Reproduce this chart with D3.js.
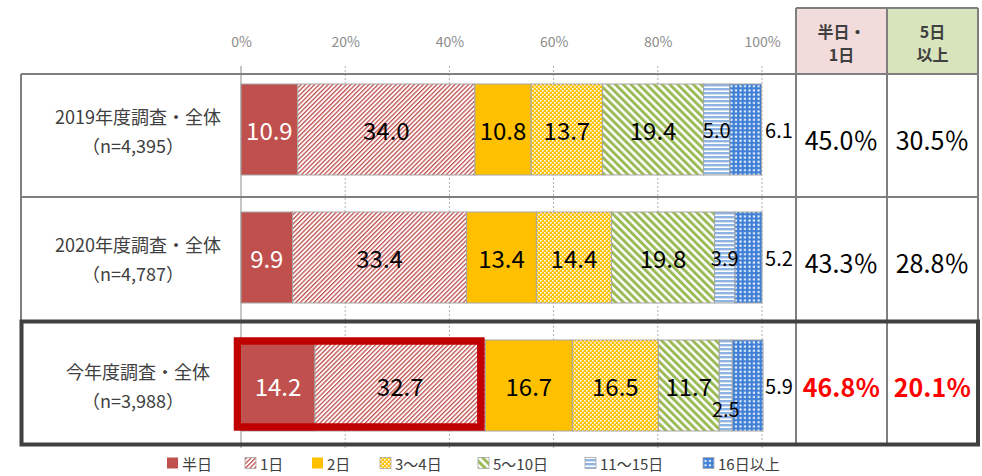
<!DOCTYPE html>
<html>
<head>
<meta charset="utf-8">
<script src="https://cdn.jsdelivr.net/npm/d3@7"></script>
<style>
  body { margin: 0; background: #fff; }
  svg text { font-family: "Noto Sans CJK JP", "Noto Sans", sans-serif; }
</style>
</head>
<body>
<svg id="chart" width="982" height="476"></svg>
<script>
// data
const rowNames = ["2019年度調査・全体", "2020年度調査・全体", "今年度調査・全体"];
const rowN = ["（n=4,395）", "（n=4,787）", "（n=3,988）"];
const categories = ["半日", "1日", "2日", "3～4日", "5～10日", "11～15日", "16日以上"];
const values2019 = [10.9, 34.0, 10.8, 13.7, 19.4, 5.0, 6.1];
const values2020 = [9.9, 33.4, 13.4, 14.4, 19.8, 3.9, 5.2];
const valuesNow = [14.2, 32.7, 16.7, 16.5, 11.7, 2.5, 5.9];
const tickValues = [0, 20, 40, 60, 80, 100];
const sumHeaders = [["半日・", "1日"], ["5日", "以上"]];
const sumHalfOne = ["45.0％", "43.3％", "46.8％"];
const sumFivePlus = ["30.5％", "28.8％", "20.1％"];

const allValues = [values2019, values2020, valuesNow];

const svg = d3.select("svg#chart");

// layout
const tableLeft = 21, tableTop = 74, tableRight = 978, headTop = 8;
const rowLines = [74, 197, 320, 446];
const colA = 796, colB = 887;

const x = d3.scaleLinear().domain([0, 100]).range([241, 762]);
const y = d3.scaleBand().domain(rowNames).range([84, 431]).paddingInner(0.289).paddingOuter(0);

// patterns
const defs = svg.append("defs");
const red = "#c0504d", yellow = "#ffc000", green = "#9bbb59", lblue = "#8db4e2", blue = "#3f7fd6";

let p = defs.append("pattern").attr("id", "pat1").attr("patternUnits", "userSpaceOnUse")
  .attr("width", 3.2).attr("height", 3.2).attr("patternTransform", "rotate(45)");
p.append("rect").attr("width", 3.2).attr("height", 3.2).attr("fill", "#fff");
p.append("rect").attr("width", 1.3).attr("height", 3.2).attr("fill", red);

p = defs.append("pattern").attr("id", "pat34").attr("patternUnits", "userSpaceOnUse")
  .attr("width", 4).attr("height", 4);
p.append("rect").attr("width", 4).attr("height", 4).attr("fill", yellow);
p.append("rect").attr("width", 1.6).attr("height", 1.6).attr("fill", "#fff");
p.append("rect").attr("x", 2).attr("y", 2).attr("width", 1.6).attr("height", 1.6).attr("fill", "#fff");

p = defs.append("pattern").attr("id", "pat510").attr("patternUnits", "userSpaceOnUse")
  .attr("width", 5.5).attr("height", 5.5).attr("patternTransform", "rotate(-45)");
p.append("rect").attr("width", 5.5).attr("height", 5.5).attr("fill", "#fff");
p.append("rect").attr("width", 3).attr("height", 5.5).attr("fill", green);

p = defs.append("pattern").attr("id", "pat1115").attr("patternUnits", "userSpaceOnUse")
  .attr("width", 4).attr("height", 4);
p.append("rect").attr("width", 4).attr("height", 4).attr("fill", "#fff");
p.append("rect").attr("width", 4).attr("height", 2.4).attr("fill", lblue);

p = defs.append("pattern").attr("id", "pat16").attr("patternUnits", "userSpaceOnUse")
  .attr("width", 4.5).attr("height", 4.2);
p.append("rect").attr("width", 4.5).attr("height", 4.2).attr("fill", blue);
p.append("rect").attr("x", 1.5).attr("y", 1.2).attr("width", 2).attr("height", 2).attr("fill", "#fff");

const fills = [red, "url(#pat1)", yellow, "url(#pat34)", "url(#pat510)", "url(#pat1115)", "url(#pat16)"];
const color = d3.scaleOrdinal().domain(categories).range(fills);

// header cells
svg.append("rect").attr("x", colA).attr("y", headTop).attr("width", colB - colA).attr("height", tableTop - headTop).attr("fill", "#f2dcdb");
svg.append("rect").attr("x", colB).attr("y", headTop).attr("width", tableRight - colB).attr("height", tableTop - headTop).attr("fill", "#d8e4bc");

sumHeaders.forEach((lines, i) => {
  const cx = i === 0 ? (colA + colB) / 2 : (colB + tableRight) / 2;
  lines.forEach((t, j) => {
    svg.append("text")
      .attr("x", cx).attr("y", 31 + j * 23)
      .attr("text-anchor", "middle").attr("dominant-baseline", "central")
      .attr("font-size", 16).attr("font-weight", "bold").attr("fill", "#404040")
      .text(t);
  });
});

// grid
const grid = svg.append("g").attr("class", "grid");
grid.selectAll("line")
  .data(tickValues)
  .join("line")
  .attr("x1", d => x(d)).attr("x2", d => x(d))
  .attr("y1", 66).attr("y2", 448)
  .attr("stroke", d => d === 0 ? "#8c8c8c" : "#b0b0b0")
  .attr("stroke-width", 1)
  .attr("stroke-dasharray", d => d === 0 ? null : "2,2");

// top axis
const topAxis = d3.axisTop(x).tickValues(tickValues).tickFormat(d => d + "%").tickSize(0);
svg.append("g")
  .attr("transform", "translate(0,50)")
  .call(topAxis)
  .call(g => g.select(".domain").remove())
  .selectAll("text")
  .attr("font-size", 14).attr("fill", "#8c8c8c")
  .style("font-family", "'Noto Sans CJK JP', sans-serif");

// table lines
const lineColor = "#7f7f7f";
const tbl = svg.append("g").attr("class", "table");
tbl.append("line").attr("x1", tableLeft).attr("x2", tableRight).attr("y1", rowLines[0]).attr("y2", rowLines[0]);
tbl.append("line").attr("x1", tableLeft).attr("x2", tableRight).attr("y1", rowLines[1]).attr("y2", rowLines[1]);
tbl.append("line").attr("x1", colA).attr("x2", tableRight).attr("y1", headTop).attr("y2", headTop);
tbl.append("line").attr("x1", tableLeft).attr("x2", tableLeft).attr("y1", rowLines[0]).attr("y2", rowLines[2]);
[colA, colB, tableRight].forEach(cx => {
  tbl.append("line").attr("x1", cx).attr("x2", cx).attr("y1", headTop).attr("y2", rowLines[3]);
});
tbl.selectAll("line").attr("stroke", lineColor).attr("stroke-width", 2);

// row labels
rowNames.forEach((name, i) => {
  const cy = y(name) + y.bandwidth() / 2;
  svg.append("text").attr("x", 138).attr("y", cy - 14)
    .attr("text-anchor", "middle").attr("dominant-baseline", "central")
    .attr("font-size", 18).attr("fill", "#404040").text(name);
  svg.append("text").attr("x", 133).attr("y", cy + 15)
    .attr("text-anchor", "middle").attr("dominant-baseline", "central")
    .attr("font-size", 18).attr("fill", "#404040").text(rowN[i]);
});

// bars
const barData = rowNames.map((name, i) => {
  let acc = 0;
  return allValues[i].map((v, k) => {
    const d = { row: name, cat: categories[k], k: k, v: v, x0: acc, x1: acc + v };
    acc += v;
    return d;
  });
});

const bars = svg.append("g").attr("class", "bars");
barData.forEach(segs => {
  const g = bars.append("g");
  g.selectAll("rect")
    .data(segs)
    .join("rect")
    .attr("x", d => x(d.x0))
    .attr("width", d => x(d.x1) - x(d.x0))
    .attr("y", d => y(d.row))
    .attr("height", y.bandwidth())
    .attr("fill", d => color(d.cat))
    .attr("stroke", "#a6a6a6")
    .attr("stroke-width", 1);

  g.selectAll("text")
    .data(segs)
    .join("text")
    .attr("x", d => d.k === categories.length - 1 ? x(100) + 17 : (x(d.x0) + x(d.x1)) / 2)
    .attr("y", d => {
      const c = y(d.row) + y.bandwidth() / 2;
      const w = x(d.x1) - x(d.x0);
      return (w < 16 && d.k !== categories.length - 1) ? c + 23 : c;
    })
    .attr("text-anchor", "middle")
    .attr("dominant-baseline", "central")
    .attr("font-size", d => d.k >= 5 ? 20 : 24)
    .attr("fill", d => d.k === 0 ? "#fff" : "#000")
    .text(d => d.v.toFixed(1));
});

// highlight box on current year 半日 + 1日
const lastRow = rowNames[2];
const hiEnd = valuesNow[0] + valuesNow[1];
svg.append("rect")
  .attr("x", x(0) - 3.5)
  .attr("y", y(lastRow) + 1)
  .attr("width", x(hiEnd) - x(0) - 1)
  .attr("height", y.bandwidth() - 5)
  .attr("fill", "none")
  .attr("stroke", "#c00000")
  .attr("stroke-width", 7.5);

// summary columns
rowNames.forEach((name, i) => {
  const cy = (rowLines[i] + rowLines[i + 1]) / 2 + 3;
  const isNow = i === 2;
  [[sumHalfOne[i], (colA + colB) / 2], [sumFivePlus[i], (colB + tableRight) / 2]].forEach(([t, cx]) => {
    svg.append("text").attr("x", cx).attr("y", cy)
      .attr("text-anchor", "middle").attr("dominant-baseline", "central")
      .attr("font-size", 25)
      .attr("font-weight", isNow ? "bold" : "normal")
      .attr("fill", isNow ? "#ff0000" : "#000")
      .text(t);
  });
});

// thick frame for current row
svg.append("rect")
  .attr("x", 21.5).attr("y", 321.5)
  .attr("width", tableRight - 21.5).attr("height", 123)
  .attr("fill", "none").attr("stroke", "#404040").attr("stroke-width", 4);

// legend
const legendX = [167, 245, 312, 380, 478, 585, 703];
const legend = svg.selectAll(".legend")
  .data(categories)
  .join("g")
  .attr("class", "legend")
  .attr("transform", (d, i) => `translate(${legendX[i]},463)`);

legend.append("rect")
  .attr("x", 0).attr("y", -5.5)
  .attr("width", 11).attr("height", 11)
  .attr("fill", d => color(d))
  .attr("stroke", d => d === categories[0] || d === categories[2] ? "none" : "#a6a6a6")
  .attr("stroke-width", 0.8);

legend.append("text")
  .attr("x", 15).attr("y", 0)
  .attr("dominant-baseline", "central")
  .attr("font-size", 15).attr("fill", "#404040")
  .text(d => d);
</script>
</body>
</html>
